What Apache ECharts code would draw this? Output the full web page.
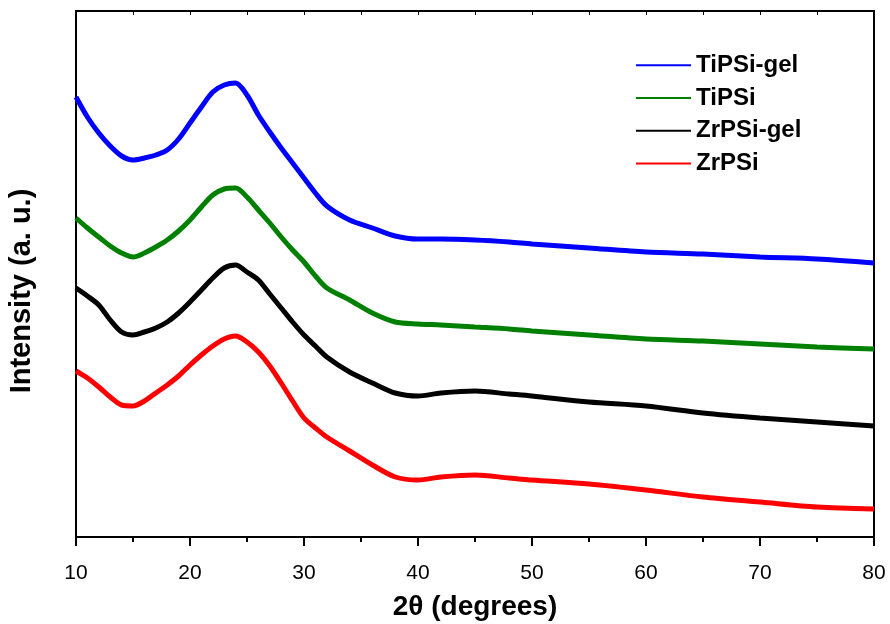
<!DOCTYPE html>
<html>
<head>
<meta charset="utf-8">
<script src="https://cdn.jsdelivr.net/npm/echarts@6/dist/echarts.min.js"></script>
<style>
  html, body { margin: 0; padding: 0; background: #fff; }
  #chart { width: 890px; height: 624px; }
</style>
</head>
<body>
<div id="chart"></div>
<script>
// 2theta positions (degrees)
var angles = [10, 11, 12, 13, 14, 15, 16, 17, 18, 19, 20, 21, 22, 23, 24, 25, 26, 27, 28, 29, 30, 31,
  32, 34, 36, 38, 40, 42, 45, 48, 50, 55, 60, 65, 70, 75, 80];

// intensities (a. u.), offset curves
var tipsiGel = [440, 420, 404, 391, 381, 377, 379, 382, 387, 398, 414, 430, 445, 452, 454, 442, 422, 405, 389, 374, 359, 344,
  331, 317, 309, 301, 298, 298, 297, 295, 293, 289, 285, 283, 280, 278, 274];
var tipsi = [319, 309, 300, 291, 284, 280, 284, 290, 297, 306, 317, 330, 342, 348, 349, 340, 327, 314, 300, 287, 275, 261,
  249, 237, 224, 215, 213, 212, 210, 208, 206, 202, 198, 196, 193, 190, 188];
var zrpsiGel = [249, 241, 232, 217, 205, 202, 205, 209, 215, 224, 235, 247, 259, 269, 272, 265, 257, 243, 229, 215, 202, 191,
  180, 165, 154, 144, 141, 144, 146, 143, 141, 135, 131, 124, 119, 115, 111];
var zrpsi = [166, 159, 150, 140, 132, 131, 136, 144, 152, 161, 172, 182, 191, 198, 201, 195, 185, 171, 154, 136, 119, 109,
  100, 86, 72, 60, 57, 60, 62, 59, 57, 53, 47, 40, 35, 30, 28];

var names = ['TiPSi-gel', 'TiPSi', 'ZrPSi-gel', 'ZrPSi'];
var colors = ['#0000ff', '#008000', '#000000', '#ff0000'];
var xTicks = [10, 20, 30, 40, 50, 60, 70, 80];

function pairs(ys) {
  return angles.map(function (a, i) { return [a, ys[i]]; });
}

var chart = echarts.init(document.getElementById('chart'));

// one line series per sample
var series = [tipsiGel, tipsi, zrpsiGel, zrpsi].map(function (ys, i) {
  return {
    name: names[i],
    type: 'line',
    data: pairs(ys),
    symbol: 'none',
    smooth: 0.3,
    xAxisIndex: 0,
    color: colors[i],
    lineStyle: { color: colors[i], width: 5 }
  };
});

var font = 'Liberation Sans, Arial';

chart.setOption({
  animation: false,
  backgroundColor: '#fff',
  grid: {
    left: 76, right: 16, top: 11, bottom: 87,
    outerBoundsMode: 'none',
    show: true, borderColor: '#000', borderWidth: 2
  },
  legend: {
    orient: 'vertical',
    left: 636, top: 51,
    padding: 0,
    icon: 'rect',
    itemWidth: 55, itemHeight: 2,
    itemGap: 4,
    textStyle: { fontFamily: font, fontWeight: 'bold', fontSize: 24, color: '#000', lineHeight: 28.7 },
    data: names
  },
  xAxis: [{
    type: 'value',
    min: 10, max: 80, interval: 10,
    name: '2θ (degrees)',
    nameLocation: 'middle',
    nameGap: 56,
    nameTextStyle: { fontFamily: font, fontWeight: 'bold', fontSize: 28, color: '#000' },
    axisLine: { show: true, lineStyle: { color: '#000', width: 2 } },
    axisTick: { show: true, inside: false, length: 9, lineStyle: { color: '#000', width: 2 } },
    minorTick: { show: true, splitNumber: 2, length: 5, lineStyle: { color: '#000', width: 2 } },
    splitLine: { show: false },
    axisLabel: {
      fontFamily: font, fontSize: 21, color: '#000', margin: 26,
      formatter: function (v) { return xTicks.indexOf(v) >= 0 ? String(v) : ''; }
    }
  }, {
    type: 'value',
    position: 'top',
    min: 10, max: 80, interval: 5,
    axisLine: { show: true, lineStyle: { color: '#000', width: 2 } },
    axisTick: { show: true, inside: true, length: 4, lineStyle: { color: '#000', width: 1 } },
    axisLabel: { show: false },
    splitLine: { show: false }
  }],
  yAxis: {
    type: 'value',
    min: 0, max: 526,
    name: 'Intensity (a. u.)',
    nameLocation: 'middle',
    nameGap: 40,
    nameTextStyle: { fontFamily: font, fontWeight: 'bold', fontSize: 29, color: '#000', padding: [0, 34, 0, 0] },
    axisLine: { show: true, lineStyle: { color: '#000', width: 2 } },
    axisTick: { show: false },
    axisLabel: { show: false },
    splitLine: { show: false }
  },
  series: series
});
</script>
</body>
</html>
